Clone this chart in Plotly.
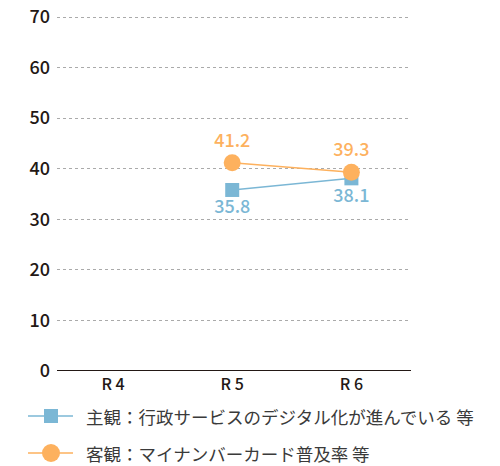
import plotly.graph_objects as go

# Survey periods and values (%)
periods = ["R 4", "R 5", "R 6"]
subjective = [None, 35.8, 38.1]
objective = [None, 41.2, 39.3]
series_names = [
    "主観：行政サービスのデジタル化が進んでいる 等",
    "客観：マイナンバーカード普及率 等",
]
y_ticks = [0, 10, 20, 30, 40, 50, 60, 70]

BLUE = "#7BB7D5"
ORANGE = "#FDB15E"
INK = "#231815"
FONT = "Noto Sans CJK JP"

W, H = 500, 466
M = dict(l=57, r=89, t=15, b=95)
PW = W - M["l"] - M["r"]
PH = H - M["t"] - M["b"]


def px_to_paper(x, y):
    """Convert page pixel coordinates to paper coordinates."""
    return (x - M["l"]) / PW, (H - M["b"] - y) / PH


fig = go.Figure()
fig.add_trace(go.Scatter(
    x=periods, y=subjective, name=series_names[0],
    mode="lines+markers+text",
    line=dict(color=BLUE, width=1.5),
    marker=dict(symbol="square", size=14, color=BLUE),
    text=[f"{v:.1f}" if v is not None else "" for v in subjective],
    textposition="bottom center",
    textfont=dict(color=BLUE, size=18, family=FONT, weight=500),
))
fig.add_trace(go.Scatter(
    x=periods, y=objective, name=series_names[1],
    mode="lines+markers+text",
    line=dict(color=ORANGE, width=1.5),
    marker=dict(symbol="circle", size=17, color=ORANGE),
    text=[f"{v:.1f}" if v is not None else "" for v in objective],
    textposition="top center",
    textfont=dict(color=ORANGE, size=18, family=FONT, weight=500),
))

fig.update_layout(
    width=W, height=H,
    margin=M,
    paper_bgcolor="white", plot_bgcolor="white",
    font=dict(family=FONT, color=INK),
    showlegend=False,
    xaxis=dict(
        type="category", range=[-0.47, 2.5], automargin=False,
        showgrid=False, showline=False, zeroline=False,
        ticks="", tickfont=dict(size=16, color=INK, family=FONT, weight=500),
        ticklabelstandoff=2,
    ),
    yaxis=dict(
        range=[0, 70.4], tickvals=y_ticks, automargin=False,
        showgrid=True, gridcolor="#AAAAAA", griddash="dot", gridwidth=1,
        zeroline=False, showline=False, ticks="",
        tickfont=dict(size=18, color=INK, family=FONT, weight=500),
        ticklabelstandoff=6,
    ),
)
fig.add_shape(type="line", xref="paper", yref="y", x0=0, x1=1, y0=0, y1=0,
              line=dict(color=INK, width=2))

# Legend drawn as shapes + annotations below the axes
legend_rows = [
    (series_names[0], BLUE, "square", 416),
    (series_names[1], ORANGE, "circle", 453),
]
for name, color, symbol, ypx in legend_rows:
    x0, y0 = px_to_paper(28, ypx)
    x1, _ = px_to_paper(73, ypx)
    xc, _ = px_to_paper(51, ypx)
    fig.add_shape(type="line", xref="paper", yref="paper",
                  x0=x0, x1=x1, y0=y0, y1=y0,
                  line=dict(color=color, width=1.5))
    half = 7 if symbol == "square" else 9
    fig.add_shape(type="rect" if symbol == "square" else "circle",
                  xref="paper", yref="paper",
                  xsizemode="pixel", ysizemode="pixel",
                  xanchor=xc, yanchor=y0,
                  x0=-half, x1=half, y0=-half, y1=half,
                  fillcolor=color, line=dict(width=0))
    xt, _ = px_to_paper(84, ypx)
    fig.add_annotation(xref="paper", yref="paper", x=xt, y=y0,
                       xanchor="left", yanchor="middle", showarrow=False,
                       text=name,
                       font=dict(size=17.5, color="#3A3A3A", family=FONT))

fig.write_html("out.html")
